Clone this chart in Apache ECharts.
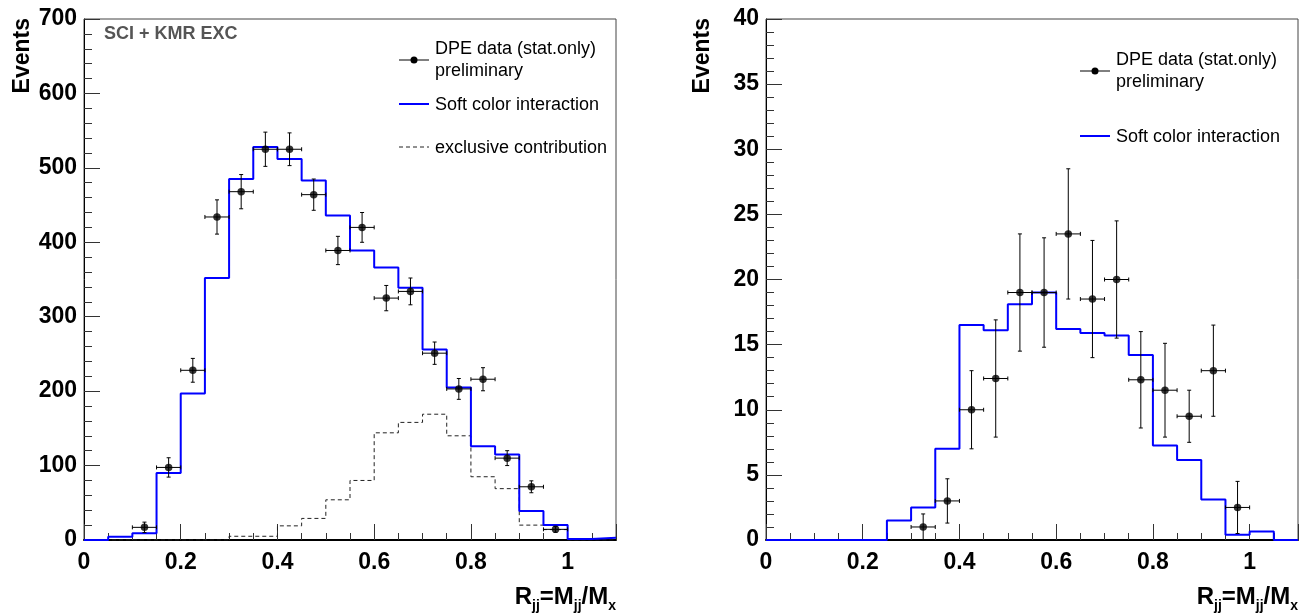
<!DOCTYPE html>
<html><head><meta charset="utf-8">
<script src="https://cdn.jsdelivr.net/npm/echarts@6/dist/echarts.min.js"></script>
<style>html,body{margin:0;padding:0;background:#fff}#c{width:1310px;height:616px}</style>
</head><body><div id="c"></div>
<script>
// ---- data ----
const binLow = [0,0.05,0.1,0.15,0.2,0.25,0.3,0.35,0.4,0.45,0.5,0.55,0.6,0.65,0.7,0.75,0.8,0.85,0.9,0.95,1.0,1.05];
const binHalfWidth = 0.025;
const xMax = 1.1;
// left panel
const sciLeft = [0,4.5,9,90,197,352,485,528,512,483,436,389,366,339,256,205,126,115,39,20,1.3,3];
const excLeft = [0,0,0,0,0,0,5,5,19,29,54,80,144,158,169,140,85,69,20,14,0,0];
const dataLeftX = [0.125,0.175,0.225,0.275,0.325,0.375,0.425,0.475,0.525,0.575,0.625,0.675,0.725,0.775,0.825,0.875,0.925,0.975];
const dataLeftY = [17,97.5,228,434,468,525,525,464,389,420,325,334,251,203,216,110,71.5,14.3];
const dataLeftErr = [7,13,16,23,23,23,22,21,19,20,17,18,15,14,15.5,10,8,4];
// right panel
const sciRight = [0,0,0,0,0,1.5,2.5,7,16.5,16.1,18.1,19,16.2,15.9,15.7,14.2,7.25,6.15,3.1,0.4,0.65,0];
const dataRightX = [0.325,0.375,0.425,0.475,0.525,0.575,0.625,0.675,0.725,0.775,0.825,0.875,0.925,0.975];
const dataRightY = [1,3,10,12.4,19,19,23.5,18.5,20,12.3,11.5,9.5,13,2.5];
const dataRightErr = [1,1.7,3,4.5,4.5,4.2,5,4.5,4.5,3.7,3.6,2,3.5,2];
// labels
const yTitle = 'Events';
const legendData1 = 'DPE data (stat.only)';
const legendData2 = 'preliminary';
const legendSci = 'Soft color interaction';
const legendExc = 'exclusive contribution';
const panelTag = 'SCI + KMR EXC';

// ---- build ----
const FF = 'Liberation Sans, Arial, Helvetica, sans-serif';
function stepData(vals){ const d = binLow.map((x,i)=>[x, vals[i]]); d.push([xMax, vals[vals.length-1]]); return d; }
function errData(xs, ys, es){ return xs.map((x,i)=>[x, ys[i], es[i], binHalfWidth]); }
function errRender(params, api){
  const x = api.value(0), y = api.value(1), e = api.value(2), hw = api.value(3);
  const c = api.coord([x, y]);
  const t = api.coord([x, y + e]);
  const b = api.coord([x, Math.max(0, y - e)]);
  const l = api.coord([x - hw, y]);
  const r = api.coord([x + hw, y]);
  const st = {stroke:'#000', lineWidth:1};
  const cap = 2;
  return {type:'group', children:[
    {type:'line', shape:{x1:c[0], y1:t[1], x2:c[0], y2:b[1]}, style:st},
    {type:'line', shape:{x1:l[0], y1:c[1], x2:r[0], y2:c[1]}, style:st},
    {type:'line', shape:{x1:c[0]-cap, y1:t[1], x2:c[0]+cap, y2:t[1]}, style:st},
    {type:'line', shape:{x1:c[0]-cap, y1:b[1], x2:c[0]+cap, y2:b[1]}, style:st},
    {type:'line', shape:{x1:l[0], y1:c[1]-cap, x2:l[0], y2:c[1]+cap}, style:st},
    {type:'line', shape:{x1:r[0], y1:c[1]-cap, x2:r[0], y2:c[1]+cap}, style:st}
  ]};
}
const labelStyle = {fontFamily:FF, fontWeight:'bold', fontSize:23, color:'#000'};
function xAxes(gi){
  return [
    {type:'value', gridIndex:gi, position:'bottom', min:0, max:xMax, interval:0.05,
     axisLine:{show:true, onZero:false, lineStyle:{color:'#000', width:2}},
     axisTick:{show:true, inside:true, length:7, lineStyle:{color:'#333'}},
     axisLabel:{show:false}, splitLine:{show:false}},
    {type:'value', gridIndex:gi, position:'bottom', offset:0, min:0, max:xMax, interval:0.2,
     axisLine:{show:false, onZero:false},
     axisTick:{show:true, inside:true, length:16, lineStyle:{color:'#333'}},
     axisLabel:Object.assign({margin:11, formatter:(v)=> v > 1.05 ? '' : String(Math.round(v*10)/10)}, labelStyle),
     splitLine:{show:false}}
  ];
}
function yAxis(gi, max, interval){
  return {type:'value', gridIndex:gi, position:'left', min:0, max:max, interval:interval,
    axisLine:{show:true, onZero:false, lineStyle:{color:'#000', width:1}},
    axisTick:{show:true, inside:true, length:16, lineStyle:{color:'#333'}},
    minorTick:{show:true, splitNumber:5, length:8, lineStyle:{color:'#333'}},
    axisLabel:Object.assign({margin:7, padding:[5,0,0,0]}, labelStyle),
    splitLine:{show:false}};
}
const xTitleRich = {
  b:{fontFamily:FF, fontWeight:'bold', fontSize:24, lineHeight:28, verticalAlign:'top', fill:'#000', color:'#000'},
  s:{fontFamily:FF, fontWeight:'bold', fontSize:14, lineHeight:11, verticalAlign:'bottom', fill:'#000', color:'#000'}
};
const xTitleText = '{b|R}{s|jj}{b|=M}{s|jj}{b|/M}{s|x}';
const legTxt = {fontFamily:FF, fontSize:18, fill:'#000'};

const option = {
  backgroundColor:'#fff',
  animation:false,
  grid:[
    {left:84, top:19, width:532, height:521, show:true, borderColor:'#444', borderWidth:1, backgroundColor:'transparent'},
    {left:766, top:19, width:532, height:521, show:true, borderColor:'#444', borderWidth:1, backgroundColor:'transparent'}
  ],
  xAxis:[...xAxes(0), ...xAxes(1)],
  yAxis:[yAxis(0, 700, 100), yAxis(1, 40, 5)],
  series:[
    {type:'line', xAxisIndex:0, yAxisIndex:0, step:'end', data:stepData(excLeft), showSymbol:false,
     lineStyle:{color:'#222', width:1, type:[4,3]}, z:2},
    {type:'line', xAxisIndex:0, yAxisIndex:0, step:'end', data:stepData(sciLeft), showSymbol:false,
     lineStyle:{color:'#0000ff', width:2}, z:3},
    {type:'custom', xAxisIndex:0, yAxisIndex:0, data:errData(dataLeftX, dataLeftY, dataLeftErr), renderItem:errRender, z:4},
    {type:'scatter', xAxisIndex:0, yAxisIndex:0, data:dataLeftX.map((x,i)=>[x, dataLeftY[i]]), symbolSize:7.5,
     itemStyle:{color:'#000'}, z:5},
    {type:'line', xAxisIndex:2, yAxisIndex:1, step:'end', data:stepData(sciRight), showSymbol:false,
     lineStyle:{color:'#0000ff', width:2}, z:3},
    {type:'custom', xAxisIndex:2, yAxisIndex:1, data:errData(dataRightX, dataRightY, dataRightErr), renderItem:errRender, z:4},
    {type:'scatter', xAxisIndex:2, yAxisIndex:1, data:dataRightX.map((x,i)=>[x, dataRightY[i]]), symbolSize:7.5,
     itemStyle:{color:'#000'}, z:5}
  ],
  graphic:[
    {type:'text', x:23, y:18, rotation:Math.PI/2, style:{text:yTitle, fontFamily:FF, fontWeight:'bold', fontSize:23, fill:'#000', align:'right', verticalAlign:'middle'}},
    {type:'text', x:703, y:18, rotation:Math.PI/2, style:{text:yTitle, fontFamily:FF, fontWeight:'bold', fontSize:23, fill:'#000', align:'right', verticalAlign:'middle'}},
    {type:'text', x:616, y:585, style:{text:xTitleText, rich:xTitleRich, align:'right', verticalAlign:'top'}},
    {type:'text', x:1298, y:585, style:{text:xTitleText, rich:xTitleRich, align:'right', verticalAlign:'top'}},
    {type:'text', x:104, y:34, style:{text:panelTag, fontFamily:FF, fontWeight:'bold', fontSize:18, fill:'#555', verticalAlign:'middle'}},
    {type:'line', shape:{x1:399, y1:60, x2:429, y2:60}, style:{stroke:'#000', lineWidth:1}},
    {type:'circle', shape:{cx:414, cy:60, r:3.5}, style:{fill:'#000'}},
    {type:'text', x:435, y:49, style:Object.assign({text:legendData1, verticalAlign:'middle'}, legTxt)},
    {type:'text', x:435, y:71, style:Object.assign({text:legendData2, verticalAlign:'middle'}, legTxt)},
    {type:'line', shape:{x1:399, y1:104, x2:429, y2:104}, style:{stroke:'#0000ff', lineWidth:2}},
    {type:'text', x:435, y:105, style:Object.assign({text:legendSci, verticalAlign:'middle'}, legTxt)},
    {type:'line', shape:{x1:399, y1:147, x2:429, y2:147}, style:{stroke:'#222', lineWidth:1, lineDash:[4,3]}},
    {type:'text', x:435, y:148, style:Object.assign({text:legendExc, verticalAlign:'middle'}, legTxt)},
    {type:'line', shape:{x1:1080, y1:71, x2:1110, y2:71}, style:{stroke:'#000', lineWidth:1}},
    {type:'circle', shape:{cx:1095, cy:71, r:3.5}, style:{fill:'#000'}},
    {type:'text', x:1116, y:60, style:Object.assign({text:legendData1, verticalAlign:'middle'}, legTxt)},
    {type:'text', x:1116, y:82, style:Object.assign({text:legendData2, verticalAlign:'middle'}, legTxt)},
    {type:'line', shape:{x1:1080, y1:136, x2:1110, y2:136}, style:{stroke:'#0000ff', lineWidth:2}},
    {type:'text', x:1116, y:137, style:Object.assign({text:legendSci, verticalAlign:'middle'}, legTxt)}
  ]
};
const chart = echarts.init(document.getElementById('c'), null, {renderer:'canvas'});
chart.setOption(option);
</script>
</body></html>
